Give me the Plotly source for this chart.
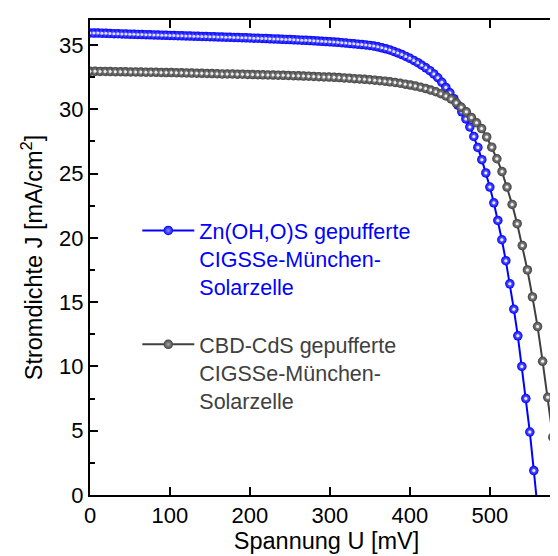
import plotly.graph_objects as go

# Zn(OH,O)S buffered cell (blue)
u_zn = [0, 5, 10, 15, 20, 25, 30, 35, 40, 45, 50, 55, 60, 65, 70, 75, 80, 85, 90, 95,
        100, 105, 110, 115, 120, 125, 130, 135, 140, 145, 150, 155, 160, 165, 170, 175, 180, 185, 190, 195,
        200, 205, 210, 215, 220, 225, 230, 235, 240, 245, 250, 255, 260, 265, 270, 275, 280, 285, 290, 295,
        300, 305, 310, 315, 320, 325, 330, 335, 340, 345, 350, 355, 360, 365, 370, 375, 380, 385, 390, 395,
        400, 405, 410, 415, 420, 425, 430, 435, 440, 445, 450, 455, 460, 465, 470, 475, 480, 485, 490, 495,
        500, 505, 510, 515, 520, 525, 530, 535, 540, 545, 550, 555, 560]
j_zn = [35.93, 35.92, 35.92, 35.91, 35.90, 35.89, 35.88, 35.87, 35.86, 35.85, 35.84, 35.83, 35.82, 35.81, 35.80, 35.79, 35.78, 35.77, 35.76, 35.75,
        35.74, 35.73, 35.72, 35.71, 35.70, 35.69, 35.68, 35.67, 35.66, 35.65, 35.64, 35.63, 35.62, 35.61, 35.60, 35.59, 35.58, 35.57, 35.56, 35.55,
        35.54, 35.53, 35.52, 35.51, 35.50, 35.48, 35.47, 35.46, 35.44, 35.43, 35.42, 35.40, 35.39, 35.37, 35.36, 35.34, 35.32, 35.30, 35.28, 35.26,
        35.24, 35.22, 35.20, 35.17, 35.15, 35.12, 35.09, 35.06, 35.03, 35.00, 34.96, 34.91, 34.85, 34.78, 34.70, 34.61, 34.50, 34.38, 34.25, 34.11,
        33.96, 33.80, 33.62, 33.42, 33.22, 33.00, 32.75, 32.45, 32.10, 31.70, 31.28, 30.82, 30.32, 29.80, 29.25, 28.62, 27.88, 27.03, 26.08, 25.05,
        23.95, 22.72, 21.35, 19.85, 18.22, 16.42, 14.45, 12.38, 10.00, 7.50, 4.90, 1.90, -1.20]

# CBD-CdS buffered cell (dark grey)
u_cds = [0.0, 6.4, 12.7, 19.1, 25.4, 31.8, 38.2, 44.5, 50.9, 57.2, 63.6, 70.0, 76.3, 82.7, 89.0, 95.4,
         101.8, 108.1, 114.5, 120.8, 127.2, 133.6, 139.9, 146.3, 152.6, 159.0, 165.4, 171.7, 178.1, 184.4, 190.8, 197.2,
         203.5, 209.9, 216.2, 222.6, 229.0, 235.3, 241.7, 248.0, 254.4, 260.8, 267.1, 273.5, 279.8, 286.2, 292.6, 298.9,
         305.3, 311.6, 318.0, 324.4, 330.7, 337.1, 343.4, 349.8, 356.2, 362.5, 368.9, 375.2, 381.6, 388.0, 394.3, 400.7,
         407.0, 413.4, 419.8, 426.1, 432.5, 438.8, 445.2, 451.6, 457.9, 464.3, 470.6, 477.0, 483.4, 489.7, 496.1, 502.4,
         508.8, 515.2, 521.5, 527.9, 534.2, 540.6, 547.0, 553.3, 559.7, 566.0, 572.4, 578.8, 585.1, 591.5]
j_cds = [32.95, 32.95, 32.94, 32.94, 32.93, 32.92, 32.92, 32.91, 32.90, 32.90, 32.89, 32.88, 32.88, 32.87, 32.86, 32.85,
         32.85, 32.84, 32.83, 32.82, 32.81, 32.80, 32.79, 32.78, 32.77, 32.76, 32.75, 32.74, 32.74, 32.73, 32.72, 32.71,
         32.70, 32.69, 32.68, 32.67, 32.66, 32.65, 32.64, 32.63, 32.61, 32.60, 32.58, 32.57, 32.55, 32.53, 32.51, 32.50,
         32.48, 32.46, 32.43, 32.41, 32.38, 32.36, 32.33, 32.30, 32.26, 32.22, 32.18, 32.13, 32.08, 32.02, 31.95, 31.88,
         31.80, 31.71, 31.61, 31.49, 31.36, 31.21, 31.03, 30.80, 30.50, 30.15, 29.80, 29.35, 28.95, 28.50, 27.85, 27.05,
         26.15, 25.15, 23.95, 22.60, 21.10, 19.40, 17.50, 15.40, 13.10, 10.40, 7.60, 4.50, 0.90, -2.60]

x_ticks = [0, 100, 200, 300, 400, 500]
y_ticks = [0, 5, 10, 15, 20, 25, 30, 35]

blue = "#0000FF"
grey = "#404040"
font_family = "Liberation Sans, Arial, sans-serif"

name_zn = "<br>".join(f"<span style='color:{blue}'>{t}</span>" for t in
                      ["Zn(OH,O)S gepufferte", "CIGSSe-München-", "Solarzelle"])
name_cds = "<br>".join(f"<span style='color:{grey}'>{t}</span>" for t in
                       ["CBD-CdS gepufferte", "CIGSSe-München-", "Solarzelle"])

fig = go.Figure()
for u, j, col, grad, nm, grp in [(u_zn, j_zn, blue, "#8c8cff", name_zn, "a"),
                                  (u_cds, j_cds, grey, "#a8a8a8", name_cds, "b")]:
    fig.add_trace(go.Scatter(
        x=u, y=j, mode="lines+markers", name=nm, legendgroup=grp,
        line=dict(color=col, width=2),
        marker=dict(symbol="circle", size=9.5, color=col,
                    gradient=dict(type="radial", color=grad), line=dict(width=0)),
    ))
    # specular highlight on each sphere marker
    fig.add_trace(go.Scatter(
        x=u, y=j, mode="markers", showlegend=False, legendgroup=grp, hoverinfo="skip",
        marker=dict(symbol="circle", size=3, color="white", opacity=0.85, line=dict(width=0)),
    ))

fig.update_layout(
    width=558, height=556,
    margin=dict(l=82, r=1, t=12, b=69),
    paper_bgcolor="white", plot_bgcolor="white",
    font=dict(family=font_family, size=22, color="black"),
    showlegend=True,
    legend=dict(x=0.10, y=0.60, xanchor="left", yanchor="top",
                bgcolor="rgba(0,0,0,0)", font=dict(size=21.5),
                traceorder="grouped", tracegroupgap=27, valign="top",
                itemwidth=52),
)
fig.update_xaxes(
    range=[0, 591.5], tickvals=x_ticks, ticktext=[str(v) for v in x_ticks],
    ticks="inside", ticklen=8, tickwidth=2, tickcolor="black",
    showline=True, linewidth=2, linecolor="black", mirror="ticks",
    showgrid=False, zeroline=False,
    title=dict(text="Spannung U [mV]", font=dict(size=23.5), standoff=3),
)
fig.update_yaxes(
    range=[0, 36.94], tickvals=y_ticks, ticktext=[str(v) for v in y_ticks],
    ticks="inside", ticklen=8, tickwidth=2, tickcolor="black",
    minor=dict(ticks="inside", ticklen=5, tickwidth=2, tickcolor="black", dtick=2.5, showgrid=False),
    showline=True, linewidth=2, linecolor="black", mirror="ticks",
    showgrid=False, zeroline=False,
    title=dict(text="Stromdichte J [mA/cm<sup>2</sup>]", font=dict(size=23.5), standoff=10),
)

fig.write_html("out.html")
